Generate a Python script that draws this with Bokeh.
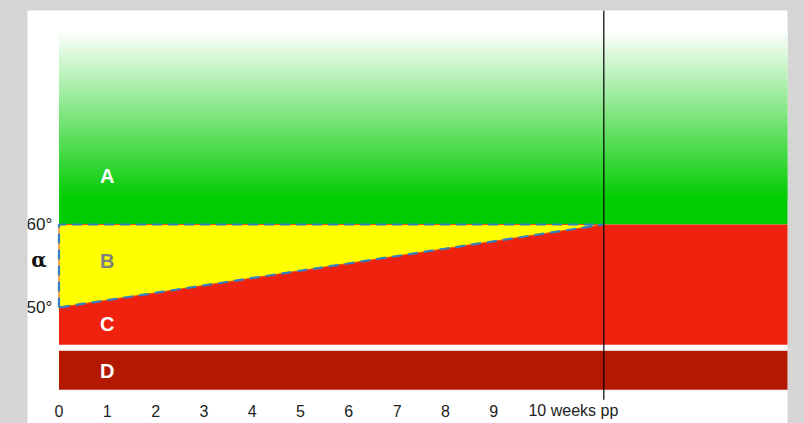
from bokeh.plotting import figure
from bokeh.models import Range1d, GlobalInlineStyleSheet
from bokeh.core.properties import value
from bokeh.embed import file_html
from bokeh.resources import INLINE

# ---- data ----
week_ticks = [0, 1, 2, 3, 4, 5, 6, 7, 8, 9]
week_labels = ["0", "1", "2", "3", "4", "5", "6", "7", "8", "9"]
last_tick = 10
last_label = "10 weeks pp"
alpha_ticks = [60, 50]
alpha_labels = ["60°", "50°"]

x_start = 0.0
x_line = 11.28          # vertical marker ("10 weeks pp")
x_end = 16.0
alpha_hi = 60.0         # A/B border
alpha_lo = 50.0         # B/C border at week 0
green_top = 83.4        # fades to white
green_solid = 63.0
c_bottom = 45.5
d_top = 44.8
d_bottom = 40.1
line_bottom = 38.9

zone_names = ["A", "B", "C", "D"]
zone_x = [1.0, 1.0, 1.0, 1.0]
zone_y = [65.9, 55.66, 48.07, 42.3]
zone_colors = ["white", "#808080", "white", "white"]

GREEN = (0, 204, 0)

p = figure(width=804, height=423, x_range=Range1d(-0.652, 15.083),
           y_range=Range1d(36.024, 85.783), output_backend="svg",
           toolbar_location=None, x_axis_location=None, y_axis_location=None,
           min_border_left=27, min_border_right=17, min_border_top=10,
           min_border_bottom=0)
p.grid.visible = False
p.outline_line_color = None
p.background_fill_color = "white"
p.border_fill_color = "#d5d5d5"
p.stylesheets = [GlobalInlineStyleSheet(css="body { background: #d5d5d5; }")]

# green gradient (style)
n = 120
h = (green_top - green_solid) / n
lefts, rights, bots, tops, cols = [], [], [], [], []
for i in range(n):
    b = green_solid + i * h
    t = (b + h * 1.6) if i < n - 1 else b + h
    f = (i + 0.5) / n
    r = int(round(GREEN[0] + (255 - GREEN[0]) * f))
    g = int(round(GREEN[1] + (255 - GREEN[1]) * f))
    bl = int(round(GREEN[2] + (255 - GREEN[2]) * f))
    lefts.append(x_start); rights.append(x_end); bots.append(b); tops.append(t)
    cols.append("#%02x%02x%02x" % (r, g, bl))
p.quad(left=lefts, right=rights, bottom=bots, top=tops, fill_color=cols, line_color=None)
p.quad(left=[x_start], right=[x_end], bottom=[alpha_hi], top=[green_solid + h * 0.5],
       fill_color="#00cc00", line_color=None)

# C zone
p.quad(left=[x_start], right=[x_end], bottom=[c_bottom], top=[alpha_hi],
       fill_color="#ee220e", line_color=None)
# D zone
p.quad(left=[x_start], right=[x_end], bottom=[d_bottom], top=[d_top],
       fill_color="#b31800", line_color=None)
# B wedge
p.patch(x=[x_start, x_line, x_start], y=[alpha_hi, alpha_hi, alpha_lo],
        fill_color="#ffff00", line_color=None)

# wedge outline
bx = [x_start, x_start, x_line, x_start]
by = [alpha_lo, alpha_hi, alpha_hi, alpha_lo]
p.line(bx, by, line_color="#ee5010", line_width=1)
p.line(bx, by, line_color="#3380c0", line_width=2.2, line_dash="10 6")

# vertical marker
p.segment(x0=[x_line], y0=[line_bottom], x1=[x_line], y1=[85.783],
          line_color="black", line_width=1.2)

# zone letters
p.text(x=zone_x, y=zone_y, text=zone_names, text_color=zone_colors,
       text_font=value("Liberation Sans"), text_font_style="bold",
       text_font_size="20px", text_align="center", text_baseline="middle")

# x tick labels
p.text(x=week_ticks, y=[37.59] * len(week_ticks), text=week_labels,
       text_font=value("Liberation Sans"), text_font_size="16px",
       text_color="#222222", text_align="center", text_baseline="middle")
p.text(x=[last_tick - 0.28], y=[37.59], text=[last_label],
       text_font=value("Liberation Sans"), text_font_size="16px",
       text_color="#222222", text_align="left", text_baseline="middle")

# y labels
p.text(x=[-0.14] * 2, y=alpha_ticks, text=alpha_labels,
       text_font=value("Liberation Sans"), text_font_size="17px",
       text_color="#222222", text_align="right", text_baseline="middle")
p.text(x=[-0.415], y=[55.7], text=["α"], text_font=value("DejaVu Serif"),
       text_font_style="bold", text_font_size="20px", text_color="#111111",
       text_align="center", text_baseline="middle")

open("out.html", "w").write(file_html(p, INLINE))
